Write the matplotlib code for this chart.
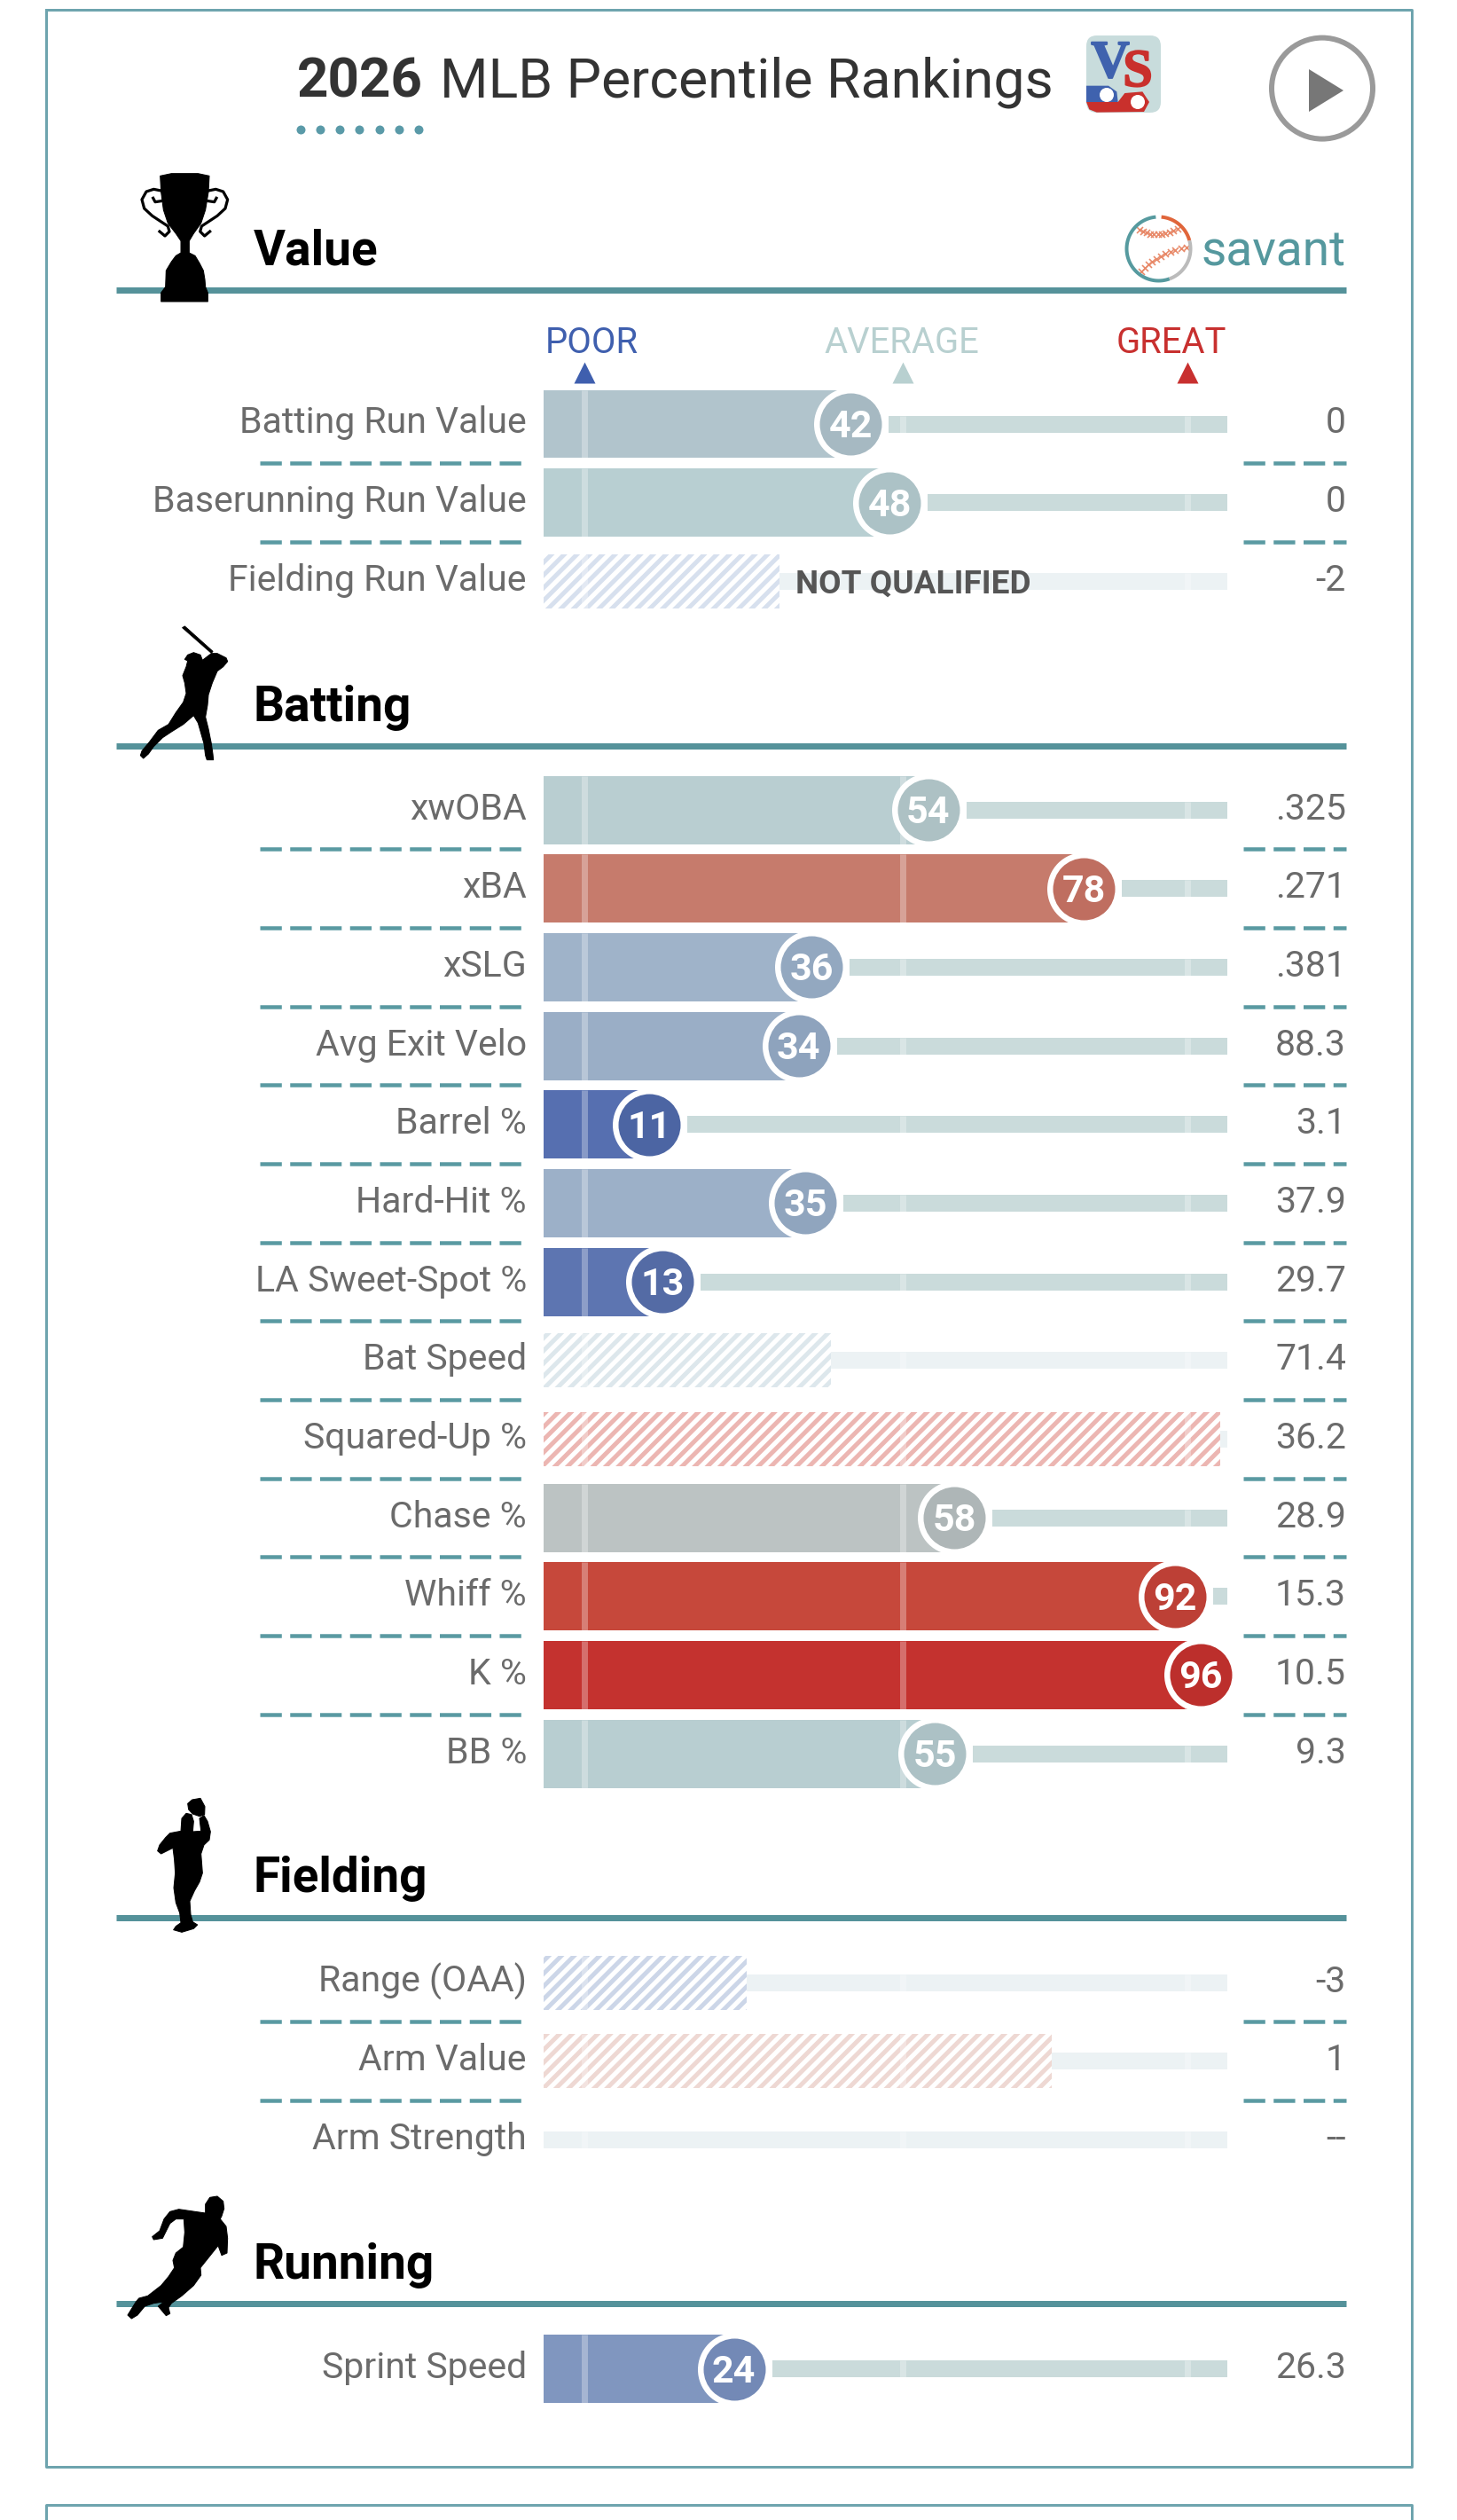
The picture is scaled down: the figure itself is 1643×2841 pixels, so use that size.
import matplotlib
matplotlib.use("Agg")
import matplotlib.patches as mpatches
import matplotlib.patheffects as pe
import matplotlib.pyplot as plt
import numpy as np

# Dados
value_labels = ["Batting Run Value", "Baserunning Run Value", "Fielding Run Value"]
value_pct = [42, 48, 31]
value_stat = ["0", "0", "-2"]
value_solid = [True, True, False]

batting_labels = ["xwOBA", "xBA", "xSLG", "Avg Exit Velo", "Barrel %", "Hard-Hit %",
                  "LA Sweet-Spot %", "Bat Speed", "Squared-Up %", "Chase %", "Whiff %",
                  "K %", "BB %"]
batting_pct = [54, 78, 36, 34, 11, 35, 13, 39, 99, 58, 92, 96, 55]
batting_stat = [".325", ".271", ".381", "88.3", "3.1", "37.9", "29.7", "71.4", "36.2",
                "28.9", "15.3", "10.5", "9.3"]
batting_solid = [True, True, True, True, True, True, True, False, False, True, True, True, True]

fielding_labels = ["Range (OAA)", "Arm Value", "Arm Strength"]
fielding_pct = [26, 73, np.nan]
fielding_stat = ["-3", "1", "--"]
fielding_solid = [False, False, False]

running_labels = ["Sprint Speed"]
running_pct = [24]
running_stat = ["26.3"]
running_solid = [True]

# Cores: barra e círculo por percentil
PCT_COLORS = {
    42: ("#b1c4cc", "#a6b9c2"), 48: ("#b8cfd2", "#acc2c6"), 54: ("#b9ced1", "#adc1c4"),
    78: ("#c67b6c", "#bf6e60"), 36: ("#9fb3c9", "#93a8c0"), 34: ("#9aaec6", "#8ea3bd"),
    11: ("#566fb0", "#4c65a3"), 35: ("#9cb0c8", "#90a5be"), 13: ("#5d75b1", "#546ba5"),
    58: ("#bcc3c3", "#aeb6b7"), 92: ("#c6483b", "#bd4036"), 96: ("#c4322f", "#bc2f2c"),
    55: ("#b8ced1", "#acc1c5"), 24: ("#8096bf", "#7389b6"),
}
HATCH_COLORS = {31: "#d7e0ee", 39: "#dde7ec", 99: "#ecb6b2", 26: "#ccd6e8", 73: "#eed8d3"}

DPI = 86
W, H = 1644, 2841
ROW = 88.67
X0, X1 = 613, 1384
P_MIN, P_MAX = -5.34, 100.1
TICKS = [1, 50, 94]
TEAL = "#55929a"


def pt(px):
    return px * 72.0 / DPI


plt.rcParams["font.family"] = ["Roboto", "DejaVu Sans"]
plt.rcParams["hatch.linewidth"] = pt(5)

fig = plt.figure(figsize=(W / DPI, H / DPI), dpi=DPI, facecolor="white")
page = fig.add_axes([0, 0, 1, 1])
page.set_xlim(0, W)
page.set_ylim(H, 0)
page.axis("off")

# ------------------------------------------------------------------
# Moldura e cabeçalho
# ------------------------------------------------------------------
page.plot([52, 52, 1592, 1592, 52], [11, 2781, 2781, 11, 11], color="#6ea4ae", lw=pt(3))
page.plot([52, 52, 1592, 1592], [H, 2824, 2824, H], color="#6ea4ae", lw=pt(3))

page.text(335, 109, "2026", fontsize=pt(62), fontweight="bold", color="#333333")
page.text(496, 109, "MLB Percentile Rankings", fontsize=pt(62.5), color="#333333")
page.scatter(np.linspace(339, 472, 7), [145.5] * 7, s=pt(10) ** 2, color="#5a9aa8", linewidths=0)

# botão play
page.add_patch(mpatches.Circle((1491, 99.6), 57, fill=False, ec="#9a9a9a", lw=pt(6)))
page.add_patch(mpatches.Polygon([(1476, 78), (1515, 102), (1476, 126)], color="#777777", lw=0))


def zoom_pts(pts, x0, y0, z=3.0):
    return [(x0 + a / z, y0 + b / z) for a, b in pts]


# logo VS
page.add_patch(mpatches.FancyBboxPatch((1225, 40), 84, 87, boxstyle="round,pad=0,rounding_size=12",
                                       fc="#c8dcdc", ec="none"))
page.add_patch(mpatches.Polygon(zoom_pts([(75, 285), (182, 285), (205, 255), (265, 250), (288, 285),
                                          (270, 318), (110, 320), (85, 310)], 1200, 20),
                                color="#c9302c", lw=0))
page.add_patch(mpatches.Polygon(zoom_pts([(75, 230), (150, 230), (178, 250), (182, 285), (75, 285)], 1200, 20),
                                color="#3f62ae", lw=0))
page.add_patch(mpatches.Circle((1248, 107), 8, color="white", lw=0))
page.add_patch(mpatches.Circle((1283, 115), 8, color="white", lw=0))
for letter, lx, ly, col in [("V", 1252, 87, "#3f62ae"), ("S", 1283, 97, "#c9302c")]:
    page.text(lx, ly, letter, family="Liberation Serif", fontweight="bold", fontsize=pt(60),
              color=col, ha="center",
              path_effects=[pe.withStroke(linewidth=pt(2), foreground=col)])

# logo savant
cx, cy, r = 1306.5, 280.5, 36
for a0, a1, col in [(95, 290, "#569a9f"), (15, 85, "#e0653a"), (-70, 15, "#bbbbbb")]:
    t = np.radians(np.linspace(a0, a1, 60))
    page.plot(cx + r * np.cos(t), cy - r * np.sin(t), color=col, lw=pt(4), solid_capstyle="butt")
for start, mid, end in [((1285, 259), (1305, 270), (1328, 258)), ((1287, 306), (1305, 285), (1338, 279))]:
    u = np.linspace(0, 1, 11)
    sx = (1 - u) ** 2 * start[0] + 2 * u * (1 - u) * mid[0] + u ** 2 * end[0]
    sy = (1 - u) ** 2 * start[1] + 2 * u * (1 - u) * mid[1] + u ** 2 * end[1]
    page.scatter(sx, sy, marker="x", s=pt(7) ** 2, color="#e88a6a", linewidths=pt(1.6))
page.text(1518, 299.5, "savant", fontsize=pt(55), color="#55989e", ha="right")

# ------------------------------------------------------------------
# Silhuetas
# ------------------------------------------------------------------
trophy = [(152, 55), (190, 47), (280, 47), (318, 55), (315, 110), (305, 170), (290, 215), (265, 250),
          (250, 275), (250, 315), (270, 325), (285, 350), (298, 375), (303, 405), (305, 430), (313, 450),
          (313, 480), (155, 480), (155, 450), (170, 430), (172, 375), (190, 345), (205, 325), (222, 315),
          (222, 275), (205, 250), (178, 215), (163, 170), (155, 110)]
handle_l = [(155, 105), (130, 100), (105, 108), (90, 135), (98, 165), (125, 190), (178, 225),
            (183, 243), (168, 258), (150, 243)]
handle_l2 = [(155, 140), (135, 143), (128, 130)]
batter_bat = [(197, 38), (205, 33), (300, 118), (295, 124)]
batter = [(215, 130), (235, 122), (258, 130), (265, 148), (295, 125), (315, 125), (345, 140), (350, 152),
          (335, 170), (315, 185), (298, 225), (285, 265), (282, 300), (275, 340), (285, 380), (295, 430),
          (300, 465), (302, 485), (280, 485), (275, 470), (270, 430), (260, 395), (250, 360), (235, 335),
          (200, 365), (160, 390), (130, 410), (100, 440), (82, 465), (65, 480), (55, 470), (60, 455),
          (85, 425), (115, 385), (150, 365), (175, 325), (200, 290), (210, 260), (205, 225), (198, 200),
          (210, 170), (215, 150), (205, 145)]
glove = [(245, 55), (260, 42), (288, 37), (303, 65), (302, 92), (285, 98), (262, 90), (248, 75)]
fielder = [(225, 105), (240, 88), (258, 92), (265, 115), (262, 150), (290, 148), (285, 105), (300, 95),
           (312, 115), (322, 150), (318, 178), (300, 195), (290, 225), (295, 290), (285, 320), (268, 350),
           (252, 385), (255, 430), (262, 455), (278, 465), (265, 478), (225, 490), (197, 482), (205, 470),
           (222, 458), (218, 425), (205, 390), (198, 340), (203, 290), (200, 245), (195, 205), (175, 215),
           (155, 225), (143, 215), (150, 195), (170, 170), (185, 155), (222, 148)]
runner = [(305, 75), (320, 52), (345, 48), (365, 65), (368, 90), (360, 115), (355, 125), (375, 150),
          (380, 190), (378, 240), (360, 248), (348, 215), (320, 250), (288, 290), (290, 315), (265, 350),
          (225, 385), (190, 410), (180, 425), (185, 445), (172, 452), (145, 420), (165, 405), (130, 410),
          (100, 420), (75, 450), (55, 462), (42, 450), (70, 405), (80, 393), (110, 385), (155, 350),
          (180, 320), (200, 290), (195, 265), (205, 240), (230, 220), (235, 170), (232, 125), (205, 125),
          (185, 140), (170, 170), (160, 190), (130, 195), (125, 185), (150, 165), (165, 125), (185, 100),
          (215, 92), (270, 100), (305, 105)]


def silhouette(pts, x0, y0):
    page.add_patch(mpatches.Polygon(zoom_pts(pts, x0, y0), closed=True, fc="black", ec="black",
                                    lw=pt(1), joinstyle="round", zorder=6))


silhouette(trophy, 130, 180)
for h in (handle_l, handle_l2):
    for mirror in (False, True):
        xy = [(470 - a, b) if mirror else (a, b) for a, b in h]
        xs, ys = zip(*zoom_pts(xy, 130, 180))
        page.plot(xs, ys, color="black", lw=pt(3.2), solid_joinstyle="round", zorder=6)
silhouette(batter_bat, 140, 695)
silhouette(batter, 140, 695)
silhouette(glove, 130, 2015)
silhouette(fielder, 130, 2015)
silhouette(runner, 130, 2460)

# Marcadores POOR / AVERAGE / GREAT
for xc, word, col in [(667, "POOR", "#3f5fae"), (1017, "AVERAGE", "#b8d0d0"), (1321, "GREAT", "#c8302f")]:
    page.text(xc, 398.5, word, fontsize=pt(40), color=col, ha="center")


# ------------------------------------------------------------------
# Seções
# ------------------------------------------------------------------
def draw_section(title, rule_y, first_y, labels, pct, stats, solid):
    page.hlines(rule_y, 131, 1518, color=TEAL, lw=pt(7), zorder=2)
    page.text(286, rule_y - 28.5, title, fontsize=pt(55), fontweight="bold", color="black")

    n = len(labels)
    top = first_y - ROW / 2
    ax = fig.add_axes([X0 / W, 1 - (top + n * ROW) / H, (X1 - X0) / W, n * ROW / H])
    ax.set_xlim(P_MIN, P_MAX)
    ax.set_ylim(n - 0.5, -0.5)
    ax.axis("off")
    ax.patch.set_alpha(0)

    bar_h = 77 / ROW
    hatch_h = 61 / ROW
    track_h = 19 / ROW
    gap = 43 / 7.31

    for i in range(n):
        y_px = first_y + i * ROW
        page.text(594, y_px + 10.5, labels[i], fontsize=pt(41), color="#6b6b6b", ha="right")
        page.text(1518, y_px + 10.5, stats[i], fontsize=pt(41), color="#6b6b6b", ha="right")
        if i < n - 1:
            for xa, xb in [(293, 594), (1402, 1518)]:
                page.plot([xa, xb], [y_px + ROW / 2] * 2, color="#5a9aa2", lw=pt(4.5),
                          linestyle=(0, (5.4, 2.1)), dash_capstyle="butt")

        p = pct[i]
        if solid[i]:
            bar_col, dot_col = PCT_COLORS[p]
            ax.barh(i, p - P_MIN, left=P_MIN, height=bar_h, color=bar_col, linewidth=0, zorder=2)
            ax.barh(i, P_MAX - p - gap, left=p + gap, height=track_h, color="#cadbdb", linewidth=0, zorder=1)
        elif np.isnan(p):
            ax.barh(i, P_MAX - P_MIN, left=P_MIN, height=track_h, color="#ecf2f4", linewidth=0, zorder=1)
        else:
            ax.barh(i, p - P_MIN, left=P_MIN, height=hatch_h, facecolor="white",
                    edgecolor=HATCH_COLORS[p], hatch="//", linewidth=0, zorder=2)
            ax.barh(i, P_MAX - p, left=p, height=track_h, color="#ecf2f4", linewidth=0, zorder=1)

        for t in TICKS:
            if solid[i] and t < p:
                span = bar_h
            elif not solid[i] and t < p:
                span = hatch_h
            else:
                span = track_h
            ax.vlines(t, i - span / 2, i + span / 2, color="white", alpha=0.3, lw=pt(7),
                      capstyle="butt", zorder=3)

        if solid[i]:
            ax.scatter(p, i, s=pt(83) ** 2, color="white", linewidths=0, zorder=4, clip_on=False)
            ax.scatter(p, i, s=pt(70) ** 2, color=dot_col, linewidths=0, zorder=5, clip_on=False)
            ax.text(p, i + 15 / ROW, str(p), fontsize=pt(43), fontweight="bold", color="white",
                    ha="center", zorder=6)
    return ax


ax_value = draw_section("Value", 327, 478, value_labels, value_pct, value_stat, value_solid)
draw_section("Batting", 841, 913, batting_labels, batting_pct, batting_stat, batting_solid)
draw_section("Fielding", 2162, 2235, fielding_labels, fielding_pct, fielding_stat, fielding_solid)
draw_section("Running", 2597, 2670.5, running_labels, running_pct, running_stat, running_solid)

for t, col in zip(TICKS, ["#3f5fae", "#b8d0d0", "#c8302f"]):
    ax_value.scatter(t, -0.65, marker="^", s=pt(24) ** 2, color=col, linewidths=0, clip_on=False)

ax_value.text(33.5, 2 + 13 / ROW, "NOT QUALIFIED", fontsize=pt(37), fontweight="bold",
              color="#555555", zorder=8, clip_on=False)

fig.savefig("out.png", dpi=DPI, facecolor="white")
